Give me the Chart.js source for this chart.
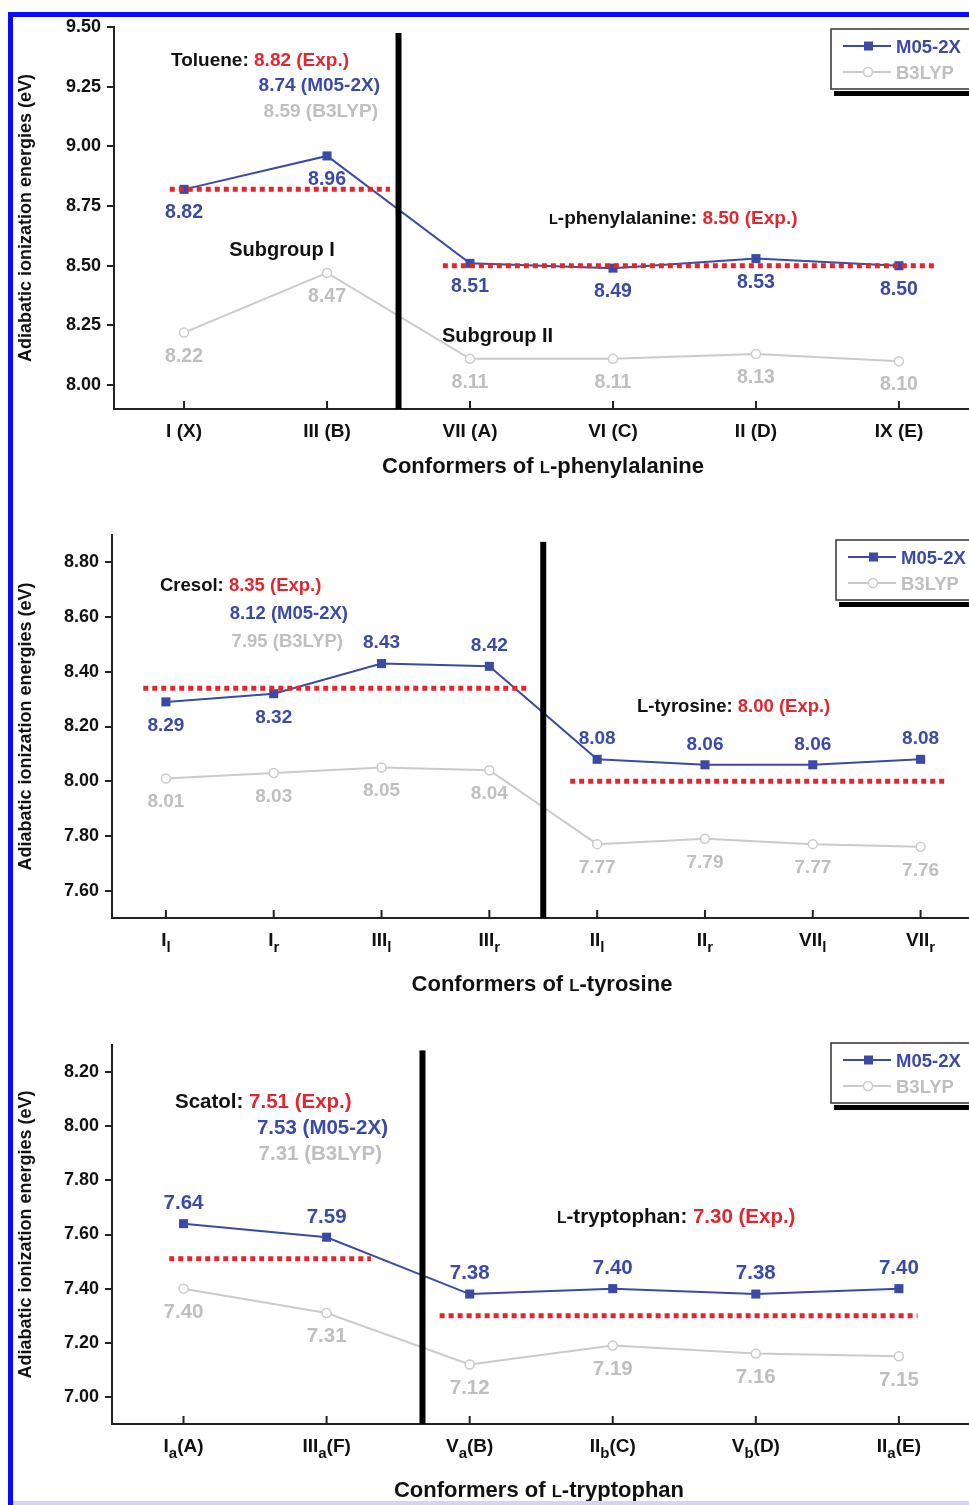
<!DOCTYPE html>
<html>
<head>
<meta charset="utf-8">
<script src="https://cdn.jsdelivr.net/npm/chart.js@4.4.1/dist/chart.umd.min.js"></script>
<style>
  html, body { margin: 0; padding: 0; background: #fff; }
  #page { position: relative; width: 969px; height: 1505px; overflow: hidden; }
  #page canvas { position: absolute; left: 0; }
  .frame { position: absolute; background: #0a0aff; z-index: 2; }
</style>
</head>
<body>
<div id="page">
  <canvas id="phe" width="969" height="500" style="top:0px"></canvas>
  <canvas id="tyr" width="969" height="510" style="top:500px"></canvas>
  <canvas id="trp" width="969" height="495" style="top:1010px"></canvas>
  <div class="frame" style="left:8px;top:12px;width:5px;height:1493px"></div>
  <div class="frame" style="left:8px;top:12px;width:961px;height:5px"></div>
  <div class="frame" style="left:13px;top:1501px;width:956px;height:4px;background:#d4d4f6"></div>
</div>
<script>
// ---- data: L-phenylalanine ----
const pheConformers = ['I (X)', 'III (B)', 'VII (A)', 'VI (C)', 'II (D)', 'IX (E)'];
const pheM05 = [8.82, 8.96, 8.51, 8.49, 8.53, 8.50];
const pheB3lyp = [8.22, 8.47, 8.11, 8.11, 8.13, 8.10];
const pheYTicks = [8.00, 8.25, 8.50, 8.75, 9.00, 9.25, 9.50];
const pheExp = [8.82, 8.50];

// ---- data: L-tyrosine ----
const tyrConformers = ['I_l', 'I_r', 'III_l', 'III_r', 'II_l', 'II_r', 'VII_l', 'VII_r'];
const tyrM05 = [8.29, 8.32, 8.43, 8.42, 8.08, 8.06, 8.06, 8.08];
const tyrB3lyp = [8.01, 8.03, 8.05, 8.04, 7.77, 7.79, 7.77, 7.76];
const tyrYTicks = [7.60, 7.80, 8.00, 8.20, 8.40, 8.60, 8.80];
const tyrExp = [8.34, 8.00];

// ---- data: L-tryptophan ----
const trpConformers = ['I_a(A)', 'III_a(F)', 'V_a(B)', 'II_b(C)', 'V_b(D)', 'II_a(E)'];
const trpM05 = [7.64, 7.59, 7.38, 7.40, 7.38, 7.40];
const trpB3lyp = [7.40, 7.31, 7.12, 7.19, 7.16, 7.15];
const trpYTicks = [7.00, 7.20, 7.40, 7.60, 7.80, 8.00, 8.20];
const trpExp = [7.51, 7.30];

const FONT = '"Liberation Sans", Arial, Helvetica, sans-serif';
const BLUE = '#3a4aa6';
const RED = '#e3262e';
const GRAY = '#cbcbcb';
const GRAYTXT = '#bfbfbf';
const BLACK = '#111';
const AXIS = '#222';
const Y_TITLE = 'Adiabatic ionization energies (eV)';

function font(size) { return 'bold ' + size + 'px ' + FONT; }

// segments: [text, color, smallCaps]
function drawRich(ctx, segs, x, cy, size, align) {
  const parts = segs.map(([t, c, sc]) => {
    const s = sc ? size * 0.76 : size;
    ctx.font = font(s);
    return { t, c, s, w: ctx.measureText(t).width };
  });
  const total = parts.reduce((a, p) => a + p.w, 0);
  let px = align === 'center' ? x - total / 2 : align === 'right' ? x - total : x;
  const base = cy + size * 0.36;
  ctx.textAlign = 'left';
  ctx.textBaseline = 'alphabetic';
  parts.forEach(p => {
    ctx.font = font(p.s);
    ctx.fillStyle = p.c;
    ctx.fillText(p.t, px, base);
    px += p.w;
  });
}

// 'III_a(F)' -> main text with one-letter subscripts
function drawTickLabel(ctx, label, cx, cy, size) {
  const parts = [];
  for (let i = 0; i < label.length; i++) {
    if (label[i] === '_') { parts.push({ t: label[i + 1], sub: true }); i++; }
    else if (parts.length && !parts[parts.length - 1].sub) parts[parts.length - 1].t += label[i];
    else parts.push({ t: label[i], sub: false });
  }
  const subSize = Math.round(size * 0.78);
  parts.forEach(p => { ctx.font = font(p.sub ? subSize : size); p.w = ctx.measureText(p.t).width; });
  const total = parts.reduce((a, p) => a + p.w, 0);
  let px = cx - total / 2;
  const base = cy + size * 0.36;
  ctx.fillStyle = BLACK;
  ctx.textAlign = 'left';
  ctx.textBaseline = 'alphabetic';
  parts.forEach(p => {
    ctx.font = font(p.sub ? subSize : size);
    ctx.fillText(p.t, px, p.sub ? base + size * 0.32 : base);
    px += p.w;
  });
}

function drawLegend(ctx, lx, ly) {
  ctx.save();
  ctx.fillStyle = '#000';
  ctx.fillRect(lx + 3, ly + 62, 200, 5);
  ctx.fillStyle = '#fff';
  ctx.fillRect(lx, ly, 200, 60);
  ctx.strokeStyle = '#333';
  ctx.lineWidth = 1.5;
  ctx.strokeRect(lx, ly, 200, 60);
  const rows = [
    { y: ly + 17, color: BLUE, text: 'M05-2X', txt: BLUE, rect: true },
    { y: ly + 43, color: GRAY, text: 'B3LYP', txt: GRAYTXT, rect: false }
  ];
  rows.forEach(r => {
    ctx.strokeStyle = r.color;
    ctx.lineWidth = 2;
    ctx.beginPath(); ctx.moveTo(lx + 12, r.y); ctx.lineTo(lx + 60, r.y); ctx.stroke();
    if (r.rect) {
      ctx.fillStyle = r.color;
      ctx.fillRect(lx + 33, r.y - 4.5, 9, 9);
    } else {
      ctx.fillStyle = '#fff';
      ctx.lineWidth = 1.5;
      ctx.beginPath(); ctx.arc(lx + 37, r.y, 4.5, 0, Math.PI * 2); ctx.fill(); ctx.stroke();
    }
    drawRich(ctx, [[r.text, r.txt]], lx + 65, r.y, 18.5, 'left');
  });
  ctx.restore();
}

const annotate = {
  id: 'annotate',
  afterDatasetsDraw(chart, args, o) {
    const { ctx, chartArea } = chart;
    const x = chart.scales.x, y = chart.scales.y;
    ctx.save();
    // experimental reference lines
    ctx.strokeStyle = RED;
    ctx.lineWidth = 5;
    ctx.setLineDash([5, 4]);
    o.exp.forEach((v, k) => {
      const py = y.getPixelForValue(v);
      ctx.beginPath();
      ctx.moveTo(x.getPixelForValue(o.expSpans[k][0]), py);
      ctx.lineTo(x.getPixelForValue(o.expSpans[k][1]), py);
      ctx.stroke();
    });
    ctx.setLineDash([]);
    // subgroup divider
    const dx = x.getPixelForValue(o.divider[0]);
    const dy = y.getPixelForValue(o.divider[1]);
    ctx.fillStyle = '#000';
    ctx.fillRect(dx - 3, dy, 6, chartArea.bottom - dy);
    // value labels
    chart.data.datasets.forEach((ds, di) => {
      const meta = chart.getDatasetMeta(di);
      meta.data.forEach((pt, i) => {
        const side = ds.labelSide[i] === 'above' ? -1 : 1;
        drawRich(ctx, [[ds.data[i].y.toFixed(2), ds.labelColor]], pt.x, pt.y + side * 22, o.labelSize, 'center');
      });
    });
    ctx.restore();
  },
  afterDraw(chart, args, o) {
    const { ctx, chartArea } = chart;
    const x = chart.scales.x;
    const t = o.top;
    ctx.save();
    // inward tick marks + conformer labels
    ctx.strokeStyle = AXIS;
    ctx.lineWidth = 2;
    o.conformers.forEach((lab, i) => {
      const px = x.getPixelForValue(i);
      ctx.beginPath(); ctx.moveTo(px, chartArea.bottom); ctx.lineTo(px, chartArea.bottom - 8); ctx.stroke();
      drawTickLabel(ctx, lab, px, chartArea.bottom + o.tickDy, 19);
    });
    // axis titles
    ctx.save();
    ctx.translate(25, (chartArea.top + chartArea.bottom) / 2);
    ctx.rotate(-Math.PI / 2);
    drawRich(ctx, [[Y_TITLE, BLACK]], 0, 0, 18, 'center');
    ctx.restore();
    drawRich(ctx, o.xTitle, o.xTitlePos[0], o.xTitlePos[1] - t, 22, 'center');
    // text notes
    o.notes.forEach(n => drawRich(ctx, n.segs, n.x, n.y - t, n.size || o.noteSize, n.align || 'left'));
    drawLegend(ctx, o.legend[0], o.legend[1] - t);
    ctx.restore();
  }
};

function makePanel(id, cfg) {
  const sides = (arr, s) => arr.map((_, i) => (typeof s === 'function' ? s(i) : s));
  new Chart(document.getElementById(id), {
    type: 'line',
    data: {
      datasets: [
        {
          label: 'M05-2X',
          data: cfg.m05.map((v, i) => ({ x: i, y: v })),
          borderColor: BLUE, backgroundColor: BLUE, borderWidth: 2,
          pointStyle: 'rect', pointRadius: 6.4, pointBorderWidth: 0, tension: 0,
          labelSide: sides(cfg.m05, cfg.m05Side), labelColor: BLUE
        },
        {
          label: 'B3LYP',
          data: cfg.b3lyp.map((v, i) => ({ x: i, y: v })),
          borderColor: GRAY, backgroundColor: '#fff', borderWidth: 2,
          pointStyle: 'circle', pointRadius: 4.5, pointBorderWidth: 1.5, tension: 0,
          labelSide: sides(cfg.b3lyp, 'below'), labelColor: GRAYTXT
        }
      ]
    },
    options: {
      responsive: false,
      animation: false,
      devicePixelRatio: 1,
      layout: { autoPadding: false, padding: { top: cfg.areaTop - cfg.top, left: 0, right: 0, bottom: 0 } },
      plugins: {
        legend: { display: false },
        tooltip: { enabled: false },
        annotate: {
          top: cfg.top, exp: cfg.exp, expSpans: cfg.expSpans, divider: cfg.divider,
          conformers: cfg.conformers, tickDy: cfg.tickDy, xTitle: cfg.xTitle, xTitlePos: cfg.xTitlePos,
          notes: cfg.notes, noteSize: cfg.noteSize, labelSize: cfg.labelSize, legend: cfg.legend
        }
      },
      scales: {
        x: {
          type: 'linear', min: cfg.xRange[0], max: cfg.xRange[1],
          grid: { display: false },
          ticks: { display: false },
          border: { display: true, color: AXIS, width: 2 },
          afterFit(s) { s.height = cfg.top + cfg.height - cfg.areaBottom; }
        },
        y: {
          min: cfg.yRange[0], max: cfg.yRange[1],
          afterBuildTicks(s) { s.ticks = cfg.yTicks.map(v => ({ value: v })); },
          ticks: { callback: v => v.toFixed(2), font: { family: FONT, size: 18, weight: 'bold' }, color: BLACK, padding: 6 },
          grid: { drawOnChartArea: false, drawTicks: true, tickLength: 7, color: AXIS, lineWidth: 2 },
          border: { display: true, color: AXIS, width: 2 },
          afterFit(s) { s.width = cfg.areaLeft; }
        }
      }
    },
    plugins: [annotate]
  });
}

makePanel('phe', {
  top: 0, height: 500, areaTop: 27, areaBottom: 409, areaLeft: 114,
  xRange: [-0.49, 5.49], yRange: [7.90, 9.50], yTicks: pheYTicks,
  conformers: pheConformers, m05: pheM05, b3lyp: pheB3lyp, m05Side: 'below',
  exp: pheExp, expSpans: [[-0.1, 1.44], [1.81, 5.25]], divider: [1.5, 9.475],
  tickDy: 21, labelSize: 19.5, noteSize: 19,
  xTitle: [['Conformers of ', BLACK], ['L', BLACK, true], ['-phenylalanine', BLACK]], xTitlePos: [543, 465],
  legend: [831, 29],
  notes: [
    { x: 171, y: 59, segs: [['Toluene: ', BLACK], ['8.82 (Exp.)', RED]] },
    { x: 380, y: 84, align: 'right', segs: [['8.74 (M05-2X)', BLUE]] },
    { x: 378, y: 110, align: 'right', segs: [['8.59 (B3LYP)', GRAYTXT]] },
    { x: 282, y: 249, align: 'center', size: 20, segs: [['Subgroup I', BLACK]] },
    { x: 442, y: 335, size: 20, segs: [['Subgroup II', BLACK]] },
    { x: 549, y: 217, segs: [['L', BLACK, true], ['-phenylalanine: ', BLACK], ['8.50 (Exp.)', RED]] }
  ]
});

makePanel('tyr', {
  top: 500, height: 510, areaTop: 535, areaBottom: 918, areaLeft: 112,
  xRange: [-0.5, 7.449], yRange: [7.50, 8.90], yTicks: tyrYTicks,
  conformers: tyrConformers, m05: tyrM05, b3lyp: tyrB3lyp, m05Side: i => (i < 2 ? 'below' : 'above'),
  exp: tyrExp, expSpans: [[-0.21, 3.35], [3.75, 7.25]], divider: [3.5, 8.875],
  tickDy: 21, labelSize: 19, noteSize: 18.5,
  xTitle: [['Conformers of ', BLACK], ['L', BLACK, true], ['-tyrosine', BLACK]], xTitlePos: [542, 983],
  legend: [836, 540],
  notes: [
    { x: 160, y: 584, segs: [['Cresol: ', BLACK], ['8.35 (Exp.)', RED]] },
    { x: 348, y: 612, align: 'right', segs: [['8.12 (M05-2X)', BLUE]] },
    { x: 343, y: 640, align: 'right', segs: [['7.95 (B3LYP)', GRAYTXT]] },
    { x: 637, y: 705, segs: [['L-tyrosine: ', BLACK], ['8.00 (Exp.)', RED]] }
  ]
});

makePanel('trp', {
  top: 1010, height: 495, areaTop: 1045, areaBottom: 1424, areaLeft: 112,
  xRange: [-0.5, 5.49], yRange: [6.90, 8.30], yTicks: trpYTicks,
  conformers: trpConformers, m05: trpM05, b3lyp: trpB3lyp, m05Side: 'above',
  exp: trpExp, expSpans: [[-0.1, 1.31], [1.79, 5.13]], divider: [1.67, 8.28],
  tickDy: 21, labelSize: 20.5, noteSize: 20.5,
  xTitle: [['Conformers of ', BLACK], ['L', BLACK, true], ['-tryptophan', BLACK]], xTitlePos: [539, 1489],
  legend: [831, 1043],
  notes: [
    { x: 175, y: 1101, segs: [['Scatol: ', BLACK], ['7.51 (Exp.)', RED]] },
    { x: 388, y: 1127, align: 'right', segs: [['7.53 (M05-2X)', BLUE]] },
    { x: 382, y: 1153, align: 'right', segs: [['7.31 (B3LYP)', GRAYTXT]] },
    { x: 557, y: 1216, segs: [['L', BLACK, true], ['-tryptophan: ', BLACK], ['7.30 (Exp.)', RED]] }
  ]
});
</script>
</body>
</html>
